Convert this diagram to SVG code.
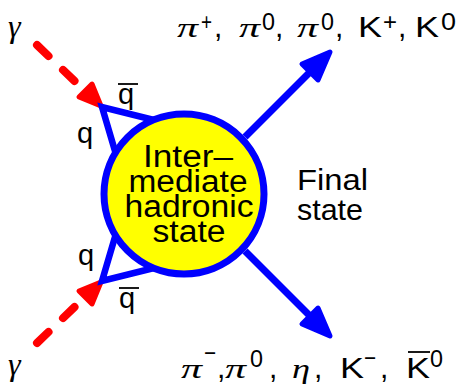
<svg xmlns="http://www.w3.org/2000/svg" width="467" height="390" viewBox="0 0 467 390">
<style>
.sans{font-family:"Liberation Sans",Arial,sans-serif;fill:#000}
.greek{font-family:"Liberation Serif","Times New Roman",serif;font-style:italic;font-weight:normal;fill:#000}
.photon{stroke:#ff0000;stroke-width:8;stroke-linecap:round;stroke-dasharray:16 20;fill:none}
.phead{fill:#ff0000;stroke:#ff0000;stroke-width:5;stroke-linejoin:round}
.quark{stroke:#0000ff;stroke-width:6.5;fill:none;stroke-linejoin:miter}
.out{stroke:#0000ff;stroke-width:7;fill:none}
.ohead{fill:#0000ff;stroke:#0000ff;stroke-width:5;stroke-linejoin:round}
.bar{stroke:#000;stroke-width:1.8}
.main{font-size:30px}
.sup{font-size:24px}
.gk{font-size:28px}
</style>
<rect width="467" height="390" fill="#fff"/>
<g id="connectors">
  <path class="photon" d="M37,45 L86,92"/>
  <polygon class="phead" points="101,106 92,84 79,97"/>
  <path class="photon" d="M37,343 L86,296"/>
  <polygon class="phead" points="101,282 92,304 79,291"/>
  <path class="quark" d="M158,121 L102,107 L120,168"/>
  <path class="quark" d="M158,267 L102,281 L120,220"/>
  <path class="out" d="M245,137 L312,70"/>
  <polygon class="ohead" points="330,52 318,80 302,64"/>
  <path class="out" d="M245,251 L312,318"/>
  <polygon class="ohead" points="330,336 318,308 302,324"/>
</g>
<g id="intermediate">
  <circle cx="184" cy="194" r="80" fill="#ffff00" stroke="#0000ff" stroke-width="7"/>
  <text class="sans" font-size="31" text-anchor="middle"><tspan x="188" y="167" textLength="90" lengthAdjust="spacingAndGlyphs">Inter–</tspan></text>
  <text class="sans" font-size="31" text-anchor="middle"><tspan x="188" y="192" textLength="119" lengthAdjust="spacingAndGlyphs">mediate</tspan></text>
  <text class="sans" font-size="31" text-anchor="middle"><tspan x="189" y="217" textLength="129" lengthAdjust="spacingAndGlyphs">hadronic</tspan></text>
  <text class="sans" font-size="31" text-anchor="middle"><tspan x="189" y="242" textLength="73" lengthAdjust="spacingAndGlyphs">state</tspan></text>
</g>
<g id="final-state">
  <text class="sans" font-size="29" x="297" y="190" textLength="71" lengthAdjust="spacingAndGlyphs">Final</text>
  <text class="sans" font-size="29" x="297" y="220" textLength="66" lengthAdjust="spacingAndGlyphs">state</text>
</g>
<g id="labels">
  <text class="greek" x="8" y="37" font-size="32">γ</text>
  <text class="greek" x="8" y="375" font-size="32">γ</text>
  <text class="sans" x="77" y="143" font-size="29">q</text>
  <text class="sans" x="78" y="265" font-size="29">q</text>
  <text class="sans" x="118" y="104" font-size="29">q</text>
  <line class="bar" x1="118" y1="84" x2="138" y2="84"/>
  <text class="sans" x="119" y="308" font-size="29">q</text>
  <line class="bar" x1="119" y1="288" x2="139" y2="288"/>
</g>
<g id="top-products">
  <text class="greek gk" x="177" y="37" textLength="21" lengthAdjust="spacingAndGlyphs">π</text>
  <text class="sans sup" x="201" y="30" textLength="11" lengthAdjust="spacingAndGlyphs">+</text>
  <text class="sans main" x="214" y="37">,</text>
  <text class="greek gk" x="239" y="37" textLength="21" lengthAdjust="spacingAndGlyphs">π</text>
  <text class="sans sup" x="262" y="30" textLength="13" lengthAdjust="spacingAndGlyphs">0</text>
  <text class="sans main" x="275" y="37">,</text>
  <text class="greek gk" x="297" y="37" textLength="21" lengthAdjust="spacingAndGlyphs">π</text>
  <text class="sans sup" x="321" y="30" textLength="13" lengthAdjust="spacingAndGlyphs">0</text>
  <text class="sans main" x="335" y="37">,</text>
  <text class="sans main" x="358" y="37" textLength="24" lengthAdjust="spacingAndGlyphs">K</text>
  <text class="sans sup" x="383" y="30" textLength="14" lengthAdjust="spacingAndGlyphs">+</text>
  <text class="sans main" x="398" y="37">,</text>
  <text class="sans main" x="415" y="37" textLength="24" lengthAdjust="spacingAndGlyphs">K</text>
  <text class="sans sup" x="441" y="30" textLength="15" lengthAdjust="spacingAndGlyphs">0</text>
</g>
<g id="bottom-products">
  <text class="greek gk" x="181" y="378" textLength="21" lengthAdjust="spacingAndGlyphs">π</text>
  <text class="sans sup" x="204" y="361" textLength="12" lengthAdjust="spacingAndGlyphs">−</text>
  <text class="sans main" x="217" y="378">,</text>
  <text class="greek gk" x="225" y="378" textLength="21" lengthAdjust="spacingAndGlyphs">π</text>
  <text class="sans sup" x="250" y="367" textLength="13" lengthAdjust="spacingAndGlyphs">0</text>
  <text class="sans main" x="269" y="378">,</text>
  <text class="greek gk" x="292" y="378" textLength="18" lengthAdjust="spacingAndGlyphs">η</text>
  <text class="sans main" x="314" y="378">,</text>
  <text class="sans main" x="340" y="378" textLength="24" lengthAdjust="spacingAndGlyphs">K</text>
  <text class="sans sup" x="364" y="366" textLength="12" lengthAdjust="spacingAndGlyphs">−</text>
  <text class="sans main" x="380" y="378">,</text>
  <text class="sans main" x="406" y="378" textLength="24" lengthAdjust="spacingAndGlyphs">K</text>
  <line class="bar" x1="408" y1="352" x2="430" y2="352"/>
  <text class="sans sup" x="430" y="367" textLength="13" lengthAdjust="spacingAndGlyphs">0</text>
</g>
</svg>
